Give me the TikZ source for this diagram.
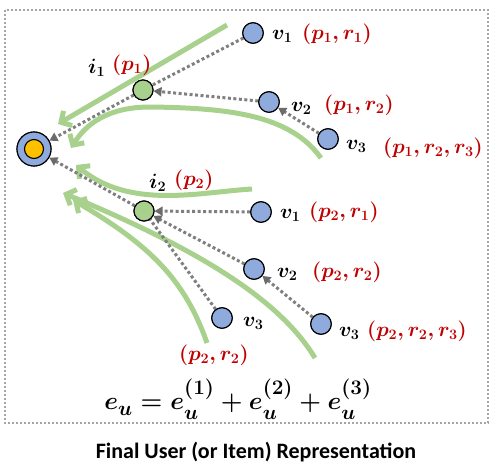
\documentclass[tikz,border=0pt]{standalone}
\usepackage{fontspec}
\usepackage{amsmath}
\usetikzlibrary{arrows.meta}
\newfontfamily\capfont{Carlito}
\definecolor{vblue}{HTML}{8FAADC}
\definecolor{igreen}{HTML}{A9D18E}
\definecolor{uorange}{HTML}{FFC000}
\definecolor{labred}{HTML}{C00000}
\definecolor{dotgray}{HTML}{7F7F7F}
\definecolor{tipgray}{HTML}{6B6B6B}
\definecolor{framegray}{HTML}{A6A6A6}
\definecolor{garrow}{HTML}{A9D18E}
\newcommand{\myeu}[1]{e_{\raisebox{-3pt}{$\scriptstyle u$}}^{\raisebox{5pt}{$\scriptstyle(#1)$}}}
\begin{document}
\begin{tikzpicture}[x=1pt,y=-1pt,
  vnode/.style={circle,draw=black,line width=1.1pt,fill=vblue,minimum size=20.5pt,inner sep=0pt},
  inode/.style={circle,draw=black,line width=1.1pt,fill=igreen,minimum size=20pt,inner sep=0pt},
  unode/.style={circle,draw=black,line width=1.1pt,fill=vblue,minimum size=34pt,inner sep=0pt},
  uinner/.style={circle,draw=black,line width=1.1pt,fill=uorange,minimum size=19pt,inner sep=0pt},
  lab/.style={anchor=west,inner sep=0pt,font=\fontsize{20}{24}\selectfont\boldmath},
  rlab/.style={lab,text=labred},
  dotline/.style={draw=dotgray,line width=3pt,dash pattern=on 3pt off 2.5pt},
  dotarrow/.style={dotline,-{Triangle[length=8pt,width=9pt,color=tipgray]}},
  greenarrow/.style={draw=garrow,line width=5pt,-{Straight Barb[length=8pt,width=17pt]}}
]
\useasboundingbox (0,0) rectangle (501,465);
% frame
\draw[framegray,line width=2pt,dash pattern=on 2pt off 2pt] (5,10) rectangle (488,423);

% nodes
\node[unode] (u) at (34,149) {};
\node[inode] (i1) at (143,90) {};
\node[inode] (i2) at (144,211) {};
\node[vnode] (a1) at (253,33) {};
\node[vnode] (a2) at (269,102) {};
\node[vnode] (a3) at (328,139) {};
\node[vnode] (b1) at (261,212) {};
\node[vnode] (b2) at (254,269) {};
\node[vnode] (b3) at (321,324) {};
\node[vnode] (c3) at (222,318) {};

% green arrows
\coordinate (g1s) at (227,25);
\coordinate (g1e) at (58,124);
\draw[greenarrow] (g1s) -- (g1e);
\coordinate (g2s) at (321,158);
\coordinate (g2e) at (71,148);
\draw[greenarrow] (g2s) .. controls (290,115) and (230,108) .. (150,107) .. controls (108,107) and (86,124) .. (g2e);
\coordinate (g3s) at (252,189);
\coordinate (g3e) at (76,165);
\draw[greenarrow] (g3s) .. controls (200,192) and (130,210) .. (g3e);
\coordinate (g4s) at (207,343);
\coordinate (g4e) at (73,200);
\draw[greenarrow] (g4s) .. controls (185,280) and (150,245) .. (g4e);
\coordinate (g5s) at (315,358);
\coordinate (g5e) at (63,193);
\draw[greenarrow] (g5s) .. controls (280,300) and (200,250) .. (g5e);

% dotted connectors
\draw[dotline] (a1) -- (i1);
\draw[dotarrow] (a2) -- (i1);
\draw[dotarrow] (i1) -- (u);
\draw[dotarrow] (a3) -- (a2);
\draw[dotarrow] (i2) -- (u);
\draw[dotarrow] (b1) -- (i2);
\draw[dotarrow] (b2) -- (i2);
\draw[dotline] (c3) -- (i2);
\draw[dotarrow] (b3) -- (b2);

% redraw nodes on top
\node[unode] at (u) {};
\node[uinner] (uin) at (u) {};
\node[inode] at (i1) {};
\node[inode] at (i2) {};
\foreach \n in {a1,a2,a3,b1,b2,b3,c3} \node[vnode] at (\n) {};

% labels
\node[lab] (la1) at (272,36) {$v_1$};
\node[rlab] (ra1) at (302,34) {$(p_1,r_1)$};
\node[lab] (li1) at (88,68) {$i_1$};
\node[rlab] (ri1) at (112,65) {$(p_1)$};
\node[lab] (la2) at (291,108) {$v_2$};
\node[rlab] (ra2) at (324,105) {$(p_1,r_2)$};
\node[lab] (la3) at (346,146) {$v_3$};
\node[rlab] (ra3) at (383,148) {$(p_1,r_2,r_3)$};
\node[lab] (li2) at (149,183) {$i_2$};
\node[rlab] (ri2) at (174,180) {$(p_2)$};
\node[lab] (lb1) at (280,215) {$v_1$};
\node[rlab] (rb1) at (309,212) {$(p_2,r_1)$};
\node[lab] (lb2) at (277,274) {$v_2$};
\node[rlab] (rb2) at (312,272) {$(p_2,r_2)$};
\node[lab] (lc3) at (243,323) {$v_3$};
\node[rlab] (rc3) at (179,355) {$(p_2,r_2)$};
\node[lab] (lb3) at (339,333) {$v_3$};
\node[rlab] (rb3) at (367,331) {$(p_2,r_2,r_3)$};

% equation
\node[anchor=base,inner sep=0pt,font=\fontsize{28}{32}\selectfont\boldmath] (eq) at (238,409)
  {$e_{\raisebox{-3pt}{$\scriptstyle u$}} = \myeu{1} + \myeu{2} + \myeu{3}$};

% caption
\node[anchor=base,inner sep=0pt,font=\capfont\bfseries\fontsize{22}{26}\selectfont] (cap) at (256,458)
  {Final User (or Item) Representation};
\end{tikzpicture}
\end{document}
